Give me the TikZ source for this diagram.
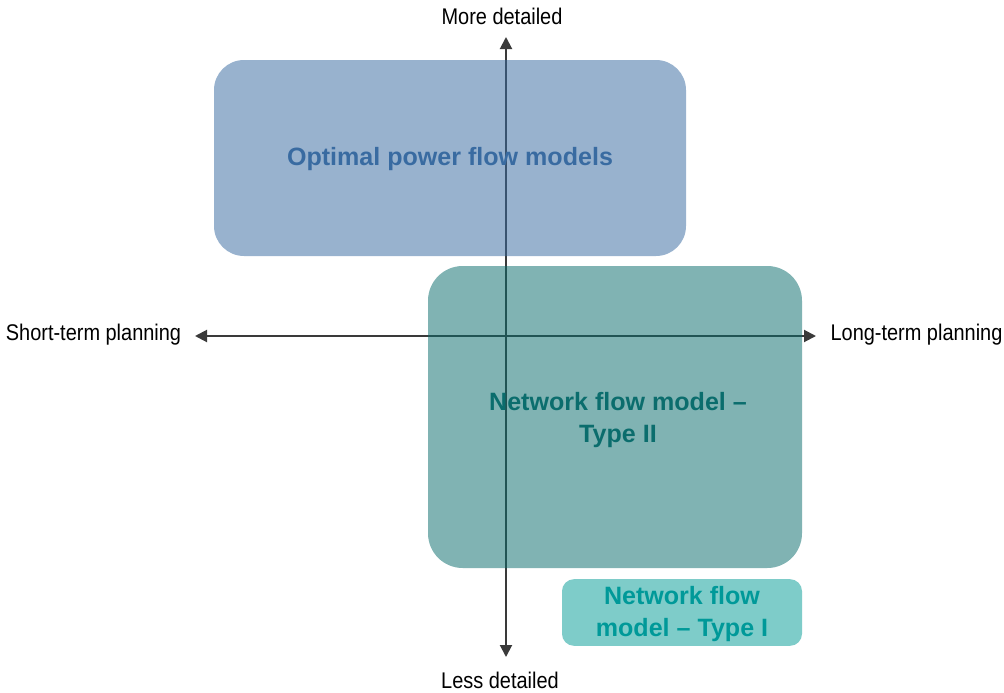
\documentclass[tikz,border=0pt]{standalone}
\usepackage{fontspec}
\setmainfont{Liberation Sans}
\newfontfamily\axisfont[FakeStretch=0.88]{Liberation Sans}
\usetikzlibrary{arrows.meta}
\definecolor{axisgray}{HTML}{3A3A3A}
\definecolor{opfblue}{HTML}{396BA1}
\definecolor{nftwo}{HTML}{0B6D6D}
\definecolor{nfone}{HTML}{079D97}
\definecolor{nfonetext}{HTML}{009999}
\tikzset{
  axisline/.style={draw=axisgray, line width=1.5pt, {Triangle[length=9pt,width=9pt]}-{Triangle[length=9pt,width=9pt]}},
  axislabel/.style={font=\axisfont\fontsize{17}{20}\selectfont, text=black, inner sep=0pt},
  regionbox/.style={rounded corners=#1, fill opacity=0.52, inner sep=0pt},
  regiontext/.style={inner sep=0pt, align=center, font=\fontsize{18.8}{24}\selectfont\bfseries},
}
\begin{document}
\begin{tikzpicture}[x=0.75pt,y=-0.75pt]
\useasboundingbox (0,0) rectangle (1004,693);
% axes
\coordinate (top) at (506,37);
\coordinate (bottom) at (506,657);
\coordinate (left) at (195,336);
\coordinate (right) at (816,336);
\draw[axisline] (bottom) -- (top);
\draw[axisline] (left) -- (right);
% labels
\node[axislabel] (more) at (502,16) {More detailed};
\node[axislabel] (less) at (500,680) {Less detailed};
\node[axislabel] (short) at (93.5,335) {Short-term planning};
\node[axislabel] (long) at (916.5,335) {Long-term planning};
% boxes
\node[regionbox=22.5pt, fill=opfblue, minimum width=354pt, minimum height=147pt] (opf) at (450,158) {};
\node[regionbox=26pt, fill=nftwo, minimum width=280.5pt, minimum height=226.5pt] (nf2) at (615,417) {};
\node[regionbox=9pt, fill=nfone, minimum width=180pt, minimum height=50pt] (nf1) at (682,612.5) {};
% texts
\node[regiontext, text=opfblue] (opft) at (450,159.5) {Optimal power flow models};
\node[regiontext, text=nftwo] (nf2t) at (618,420) {Network flow model --\\Type II};
\node[regiontext, text=nfonetext] (nf1t) at (682,614) {Network flow\\model -- Type I};
\end{tikzpicture}
\end{document}
